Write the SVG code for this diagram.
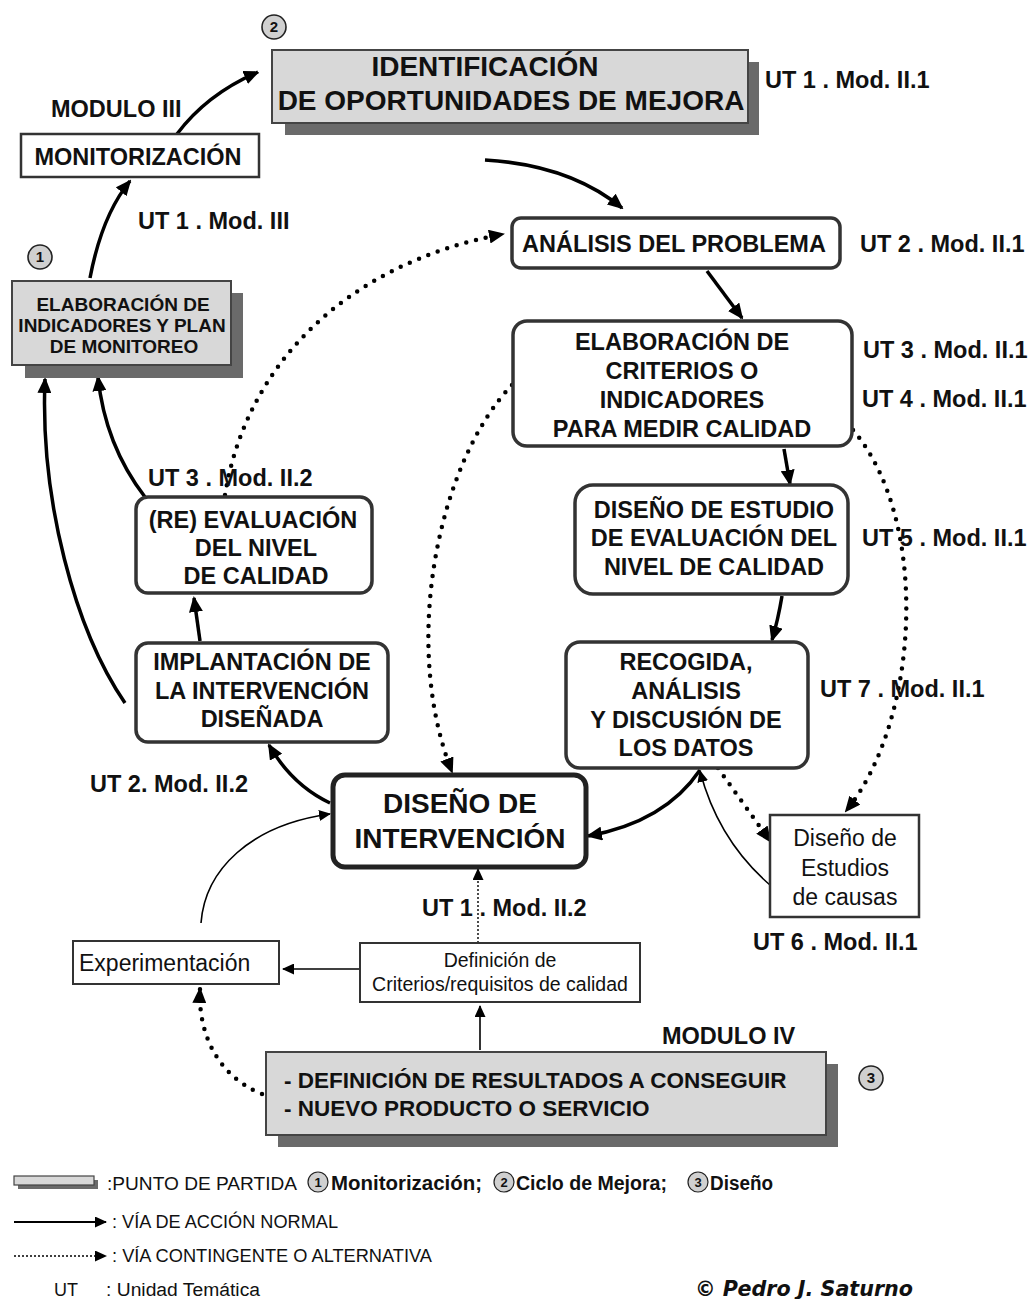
<svg xmlns="http://www.w3.org/2000/svg" width="1029" height="1299" viewBox="0 0 1029 1299">
<style>
.b{font-family:"Liberation Sans",Arial,sans-serif;font-weight:bold;fill:#111;font-size:23.5px}
.r{font-family:"Liberation Sans",Arial,sans-serif;fill:#111}
.n{font-family:"Liberation Sans Narrow","Liberation Sans",Arial,sans-serif;fill:#111}
.box{fill:#fff;stroke:#333;stroke-width:2.5}
.rbox{fill:#fff;stroke:#333;stroke-width:3.5}
.gbox{fill:#d8d8d8;stroke:#444;stroke-width:2}
.shadow{fill:#6a6a6a}
.circ{fill:#d0d0d0;stroke:#222;stroke-width:1.6}
.cn{font-family:"Liberation Sans",Arial,sans-serif;font-weight:bold;font-size:15px;fill:#111;text-anchor:middle}
.thick{fill:none;stroke:#000;stroke-width:3.5;marker-end:url(#ah)}
.thin{fill:none;stroke:#000;stroke-width:1.6;marker-end:url(#as)}
.dot{fill:none;stroke:#000;stroke-width:4.5;stroke-linecap:round;stroke-dasharray:0 10;marker-end:url(#ah)}
.fdot{fill:none;stroke:#000;stroke-width:1.4;stroke-dasharray:2 2;marker-end:url(#as)}
.m{text-anchor:middle}
</style>
<defs>
<marker id="ah" viewBox="0 0 16 14" refX="14" refY="7" markerWidth="16" markerHeight="14" markerUnits="userSpaceOnUse" orient="auto"><path d="M0,0 L16,7 L0,14 z" fill="#000"/></marker>
<marker id="as" viewBox="0 0 12 11" refX="11" refY="5.5" markerWidth="12" markerHeight="11" markerUnits="userSpaceOnUse" orient="auto"><path d="M0,0 L12,5.5 L0,11 z" fill="#000"/></marker>
</defs>
<rect width="1029" height="1299" fill="#fff"/>

<g id="connectors">
<path class="thick" d="M177,134 Q207,94 258,72"/>
<path class="thick" d="M90,278 Q102,215 130,181"/>
<path class="thick" d="M485,160 Q570,165 622,208"/>
<path class="thick" d="M707,271 L742,318"/>
<path class="thick" d="M784,449 L790,484"/>
<path class="thick" d="M782,596 Q778,620 772,640"/>
<path class="thick" d="M700,770 Q665,822 588,836"/>
<path class="thick" d="M145,497 Q105,445 98,377"/>
<path class="thick" d="M125,703 C75,630 40,500 45,379"/>
<path class="thick" d="M200,641 L194,598"/>
<path class="thick" d="M330,803 Q292,785 269,745"/>
<path class="thin" d="M201,923 C205,870 250,825 330,814"/>
<path class="thin" d="M360,969 L283,969"/>
<path class="thin" d="M480,1050 L480,1006"/>
<path class="thin" d="M770,885 Q718,840 700,771"/>
<path class="dot" d="M225,495 C245,370 340,265 503,234"/>
<path class="dot" d="M512,385 C440,460 400,640 452,772"/>
<path class="dot" d="M853,430 C930,520 920,720 846,811"/>
<path class="dot" d="M718,768 L770,841"/>
<path class="dot" d="M262,1094 C215,1075 198,1030 200,989"/>
<path class="fdot" d="M478,943 L478,869"/>
</g>

<g id="circle2"><circle class="circ" cx="274" cy="27" r="12"/><text class="cn" x="274" y="32">2</text></g>

<g id="identificacion">
<rect class="shadow" x="285" y="62" width="474" height="73"/>
<rect class="gbox" x="272" y="50" width="476" height="73"/>
<text class="b m" x="485" y="76" style="font-size:28px">IDENTIFICACIÓN</text>
<text class="b m" x="511" y="110" style="font-size:28px">DE OPORTUNIDADES DE MEJORA</text>
</g>
<text class="b" x="765" y="88">UT 1 . Mod. II.1</text>

<text class="b" x="51" y="117">MODULO III</text>
<g id="monitorizacion">
<rect class="box" x="21" y="134" width="238" height="43"/>
<text class="b m" x="138" y="165">MONITORIZACIÓN</text>
</g>
<text class="b" x="138" y="229">UT 1 . Mod. III</text>

<g id="circle1"><circle class="circ" cx="40" cy="257" r="12"/><text class="cn" x="40" y="262">1</text></g>

<g id="elaboracion-indicadores">
<rect class="shadow" x="25" y="293" width="218" height="85"/>
<rect class="gbox" x="12" y="281" width="219" height="84"/>
<text class="b m" x="123" y="311" style="font-size:19px">ELABORACIÓN  DE</text>
<text class="b m" x="122" y="332" style="font-size:19px">INDICADORES  Y PLAN</text>
<text class="b m" x="124" y="353" style="font-size:19px">DE MONITOREO</text>
</g>

<g id="analisis">
<rect class="rbox" x="512" y="218" width="328" height="50" rx="9"/>
<text class="b m" x="674" y="252">ANÁLISIS DEL PROBLEMA</text>
</g>
<text class="b" x="860" y="252">UT 2 . Mod. II.1</text>

<g id="criterios">
<rect class="rbox" x="513" y="321" width="339" height="125" rx="14"/>
<text class="b m" x="682" y="350">ELABORACIÓN DE</text>
<text class="b m" x="682" y="379">CRITERIOS O</text>
<text class="b m" x="682" y="408">INDICADORES</text>
<text class="b m" x="682" y="437">PARA MEDIR CALIDAD</text>
</g>
<text class="b" x="863" y="358">UT 3 . Mod. II.1</text>
<text class="b" x="862" y="407">UT 4 . Mod. II.1</text>

<g id="diseno-estudio">
<rect class="rbox" x="575" y="485" width="273" height="109" rx="18"/>
<text class="b m" x="714" y="518">DISEÑO DE ESTUDIO</text>
<text class="b m" x="714" y="546">DE EVALUACIÓN DEL</text>
<text class="b m" x="714" y="575">NIVEL DE CALIDAD</text>
</g>
<text class="b" x="862" y="546">UT 5 . Mod. II.1</text>

<g id="recogida">
<rect class="rbox" x="566" y="642" width="242" height="126" rx="14"/>
<text class="b m" x="686" y="670">RECOGIDA,</text>
<text class="b m" x="686" y="699">ANÁLISIS</text>
<text class="b m" x="686" y="728">Y DISCUSIÓN DE</text>
<text class="b m" x="686" y="756">LOS DATOS</text>
</g>
<text class="b" x="820" y="697">UT 7 . Mod. II.1</text>

<g id="estudios-causas">
<rect class="box" x="770" y="815" width="149" height="102"/>
<text class="r m" x="845" y="846" style="font-size:23px">Diseño de</text>
<text class="r m" x="845" y="876" style="font-size:23px">Estudios</text>
<text class="r m" x="845" y="905" style="font-size:23px">de causas</text>
</g>
<text class="b" x="753" y="950">UT 6 . Mod. II.1</text>

<g id="diseno-intervencion">
<rect fill="#fff" stroke="#222" stroke-width="5" x="333" y="775" width="253" height="92" rx="12"/>
<text class="b m" x="460" y="813" style="font-size:28px">DISEÑO DE</text>
<text class="b m" x="460" y="848" style="font-size:28px">INTERVENCIÓN</text>
</g>
<text class="b" x="422" y="916">UT 1 . Mod. II.2</text>

<g id="reevaluacion">
<rect class="rbox" x="136" y="497" width="236" height="96" rx="12"/>
<text class="b m" x="253" y="528">(RE) EVALUACIÓN</text>
<text class="b m" x="256" y="556">DEL NIVEL</text>
<text class="b m" x="256" y="584">DE CALIDAD</text>
</g>
<text class="b" x="148" y="486">UT 3 . Mod. II.2</text>

<g id="implantacion">
<rect class="rbox" x="136" y="643" width="252" height="99" rx="12"/>
<text class="b m" x="262" y="670">IMPLANTACIÓN DE</text>
<text class="b m" x="262" y="699">LA INTERVENCIÓN</text>
<text class="b m" x="262" y="727">DISEÑADA</text>
</g>
<text class="b" x="90" y="792">UT 2. Mod. II.2</text>

<g id="experimentacion">
<rect class="box" x="73" y="941" width="206" height="43" style="stroke-width:2"/>
<text class="r" x="79" y="971" style="font-size:23px">Experimentación</text>
</g>

<g id="definicion-criterios">
<rect class="box" x="360" y="943" width="280" height="59" style="stroke-width:2"/>
<text class="r m" x="500" y="967" style="font-size:19.5px">Definición de</text>
<text class="r m" x="500" y="991" style="font-size:19.5px">Criterios/requisitos de calidad</text>
</g>

<text class="b" x="662" y="1044">MODULO IV</text>
<g id="definicion-resultados">
<rect class="shadow" x="278" y="1064" width="560" height="83"/>
<rect class="gbox" x="266" y="1052" width="560" height="83"/>
<text class="b" x="284" y="1088" style="font-size:22.5px">- DEFINICIÓN DE  RESULTADOS A CONSEGUIR</text>
<text class="b" x="284" y="1116" style="font-size:22.5px">- NUEVO PRODUCTO O SERVICIO</text>
</g>
<g id="circle3"><circle class="circ" cx="871" cy="1078" r="12"/><text class="cn" x="871" y="1083">3</text></g>

<g id="legend">
<rect class="shadow" x="18" y="1180" width="80" height="9"/>
<rect class="gbox" x="14" y="1176" width="80" height="9" style="stroke-width:1.2"/>
<text class="n" x="107" y="1190" style="font-size:19px" textLength="190" lengthAdjust="spacingAndGlyphs">:PUNTO DE  PARTIDA</text>
<circle class="circ" cx="318" cy="1182" r="10" style="stroke-width:1.2"/><text class="cn" x="318" y="1187" style="font-size:13px">1</text>
<text class="n" x="331" y="1190" style="font-size:19.5px;font-weight:bold" textLength="151" lengthAdjust="spacingAndGlyphs">Monitorización;</text>
<circle class="circ" cx="504" cy="1182" r="10" style="stroke-width:1.2"/><text class="cn" x="504" y="1187" style="font-size:13px">2</text>
<text class="n" x="516" y="1190" style="font-size:19.5px;font-weight:bold" textLength="151" lengthAdjust="spacingAndGlyphs">Ciclo de Mejora;</text>
<circle class="circ" cx="698" cy="1182" r="10" style="stroke-width:1.2"/><text class="cn" x="698" y="1187" style="font-size:13px">3</text>
<text class="n" x="710" y="1190" style="font-size:19.5px;font-weight:bold" textLength="63" lengthAdjust="spacingAndGlyphs">Diseño</text>
<path class="thin" d="M14,1222 L106,1222" style="stroke-width:2"/>
<text class="n" x="112" y="1228" style="font-size:18.5px" textLength="226" lengthAdjust="spacingAndGlyphs">: VÍA DE ACCIÓN NORMAL</text>
<path class="fdot" d="M14,1256 L106,1256"/>
<text class="n" x="112" y="1262" style="font-size:18.5px" textLength="320" lengthAdjust="spacingAndGlyphs">: VÍA CONTINGENTE O ALTERNATIVA</text>
<text class="n" x="54" y="1296" style="font-size:18px" textLength="24" lengthAdjust="spacingAndGlyphs">UT</text>
<text class="n" x="106" y="1296" style="font-size:18px" textLength="154" lengthAdjust="spacingAndGlyphs">: Unidad Temática</text>
<text class="r" x="695" y="1296" style="font-size:22px;font-weight:bold;font-style:italic;font-family:'DejaVu Sans',sans-serif" textLength="218" lengthAdjust="spacingAndGlyphs">© Pedro J. Saturno</text>
</g>
</svg>
